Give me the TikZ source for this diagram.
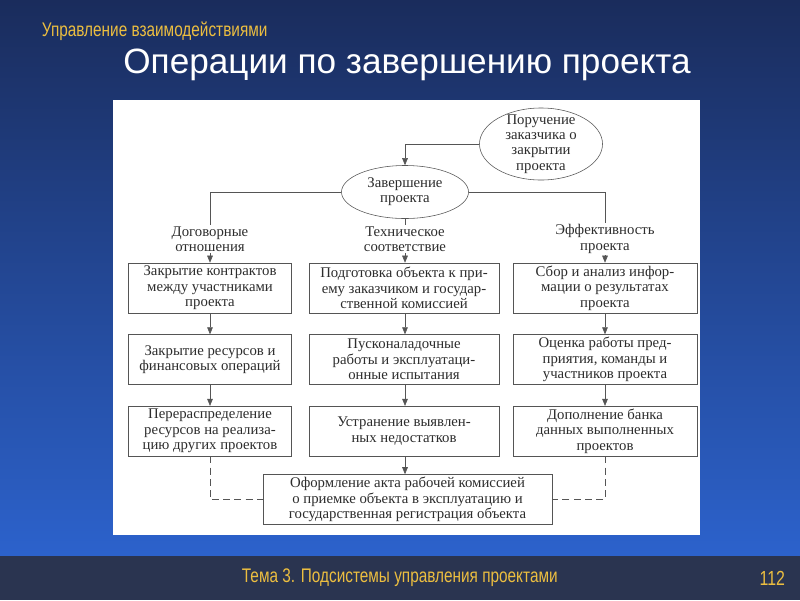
\documentclass[tikz,border=0pt]{standalone}
\usepackage{fontspec}
\setmainfont{Liberation Serif}
\newfontfamily\slidesans{Liberation Sans}
\newfontfamily\narrowsans[FakeStretch=0.78]{Liberation Sans}
\usetikzlibrary{arrows.meta, positioning, shapes.geometric}

\definecolor{slidetop}{RGB}{26,44,92}
\definecolor{slidebottom}{RGB}{44,98,204}
\definecolor{footband}{RGB}{42,52,80}
\definecolor{headyellow}{RGB}{236,190,64}
\definecolor{scanink}{RGB}{45,45,45}
\definecolor{scanline}{RGB}{85,85,85}

\begin{document}
\begin{tikzpicture}[
    x=0.025cm, y=-0.025cm,
    node distance=0.525cm,
    box/.style={draw=scanline, fill=white, minimum height=1.25cm,
                inner xsep=3pt, inner ysep=0.5pt, align=center,
                font=\fontsize{10.5}{11}\selectfont, text=scanink},
    oval/.style={ellipse, draw=scanline, fill=white, inner xsep=0pt,
                 align=center, font=\fontsize{10.5}{10.8}\selectfont, text=scanink},
    branch/.style={align=center, inner sep=1pt,
                   font=\fontsize{10.5}{11}\selectfont, text=scanink},
    arrow/.style={-{Triangle[length=5pt, width=4pt]}, draw=scanline, thin},
    link/.style={draw=scanline, thin},
    dashlink/.style={draw=scanline, thin, dash pattern=on 5pt off 3pt}
  ]
    % slide background
    \useasboundingbox (0,0) rectangle (800,600);
    \shade[top color=slidetop, bottom color=slidebottom] (0,0) rectangle (800,556);
    \fill[footband] (0,556) rectangle (800,600);
    \fill[white] (113,100) rectangle (700,535);

    \node[font=\narrowsans\fontsize{14}{16}\selectfont, text=headyellow, anchor=west]
          (section) at (37,31) {Управление взаимодействиями};
    \node[font=\slidesans\fontsize{25}{29}\selectfont, text=white]
          (title) at (407,65) {Операции по завершению проекта};
    \node[font=\narrowsans\fontsize{14}{16}\selectfont, text=headyellow, anchor=west]
          (topic) at (237,578) {Тема 3. Подсистемы управления проектами};
    \node[font=\narrowsans\fontsize{14.5}{16}\selectfont, text=headyellow, anchor=east]
          (page) at (790,578) {112};

    % ellipses
    \node[oval, minimum width=3.075cm, minimum height=1.8cm, inner ysep=-3pt]
          (order) at (541,144) {Поручение\\заказчика о\\закрытии\\проекта};
    \node[oval, minimum width=3.175cm, minimum height=1.075cm]
          (finish) at (405,192) {Завершение\\проекта};

    % branch labels
    \node[branch] (contract) at (210,239) {Договорные\\отношения};
    \node[branch] (technical) at (405,239) {Техническое\\соответствие};
    \node[branch] (efficiency) at (605,239) {Эффективность\\проекта};

    % first row
    \node[box, minimum width=4.075cm] (closecontr) at (210,288)
          {Закрытие контрактов\\между участниками\\проекта};
    \node[box, minimum width=4.75cm] (prepare) at (404,288)
          {Подготовка объекта к при-\\ему заказчиком и государ-\\ственной комиссией};
    \node[box, minimum width=4.6cm] (collect) at (605,288)
          {Сбор и анализ инфор-\\мации о результатах\\проекта};

    % second row
    \node[box, minimum width=4.075cm, below=of closecontr] (closeres)
          {Закрытие ресурсов и\\финансовых операций};
    \node[box, minimum width=4.75cm, below=of prepare] (startup)
          {Пусконаладочные\\работы и эксплуатаци-\\онные испытания};
    \node[box, minimum width=4.6cm, below=of collect] (assess)
          {Оценка работы пред-\\приятия, команды и\\участников проекта};

    % third row
    \node[box, minimum width=4.075cm, below=of closeres] (redist)
          {Перераспределение\\ресурсов на реализа-\\цию других проектов};
    \node[box, minimum width=4.75cm, below=of startup] (remove)
          {Устранение выявлен-\\ных недостатков};
    \node[box, minimum width=4.6cm, below=of assess] (bank)
          {Дополнение банка\\данных выполненных\\проектов};

    \node[box, minimum width=7.225cm] (act) at (407.5,499.5)
          {Оформление акта рабочей комиссией\\о приемке объекта в эксплуатацию и\\государственная регистрация объекта};

    % connectors
    \draw[arrow] (order.west) -| (finish.north);
    \draw[link] (finish.west) -| (contract.north);
    \draw[link] (finish.south) -- (technical.north);
    \draw[link] (finish.east) -| (efficiency.north);
    \draw[arrow] (contract.south) -- (contract.south |- closecontr.north);
    \draw[arrow] (technical.south) -- (technical.south |- prepare.north);
    \draw[arrow] (efficiency.south) -- (efficiency.south |- collect.north);

    \draw[arrow] (closecontr) -- (closeres);
    \draw[arrow] (closeres) -- (redist);
    \draw[arrow] (technical.south |- prepare.south) -- (technical.south |- startup.north);
    \draw[arrow] (technical.south |- startup.south) -- (technical.south |- remove.north);
    \draw[arrow] (collect) -- (assess);
    \draw[arrow] (assess) -- (bank);
    \draw[arrow] (technical.south |- remove.south) -- (technical.south |- act.north);

    \draw[dashlink] (redist.south) |- (act.west);
    \draw[dashlink] (bank.south) |- (act.east);
\end{tikzpicture}
\end{document}
